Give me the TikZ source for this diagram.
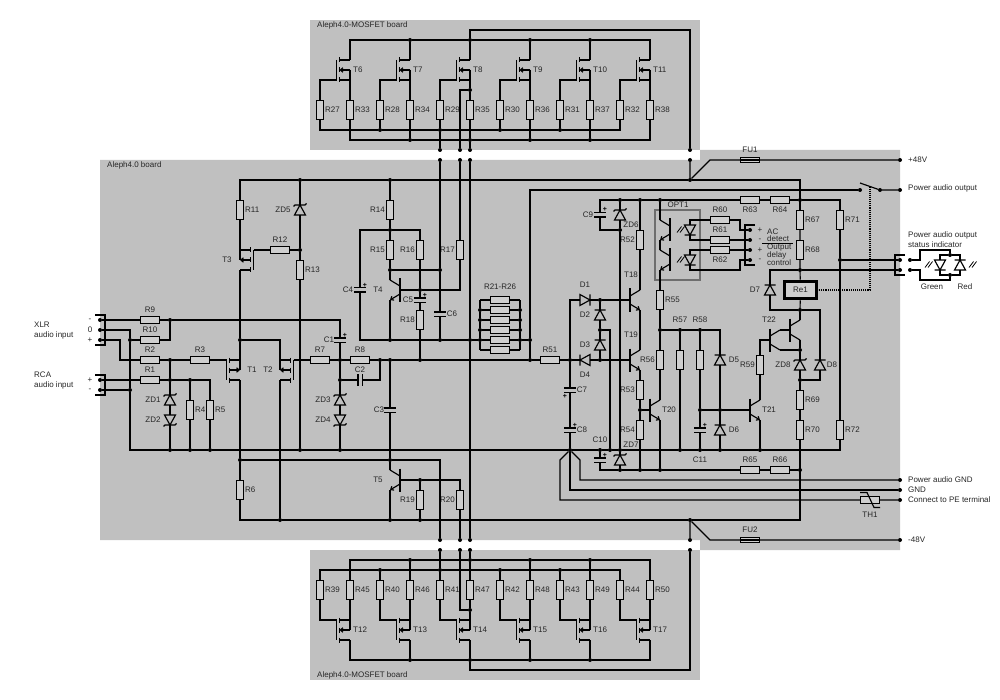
\documentclass[tikz,border=0pt]{standalone}
\usepackage{fontspec}
\setmainfont{Liberation Sans}
\usetikzlibrary{arrows.meta}
\definecolor{board}{HTML}{C0C0C0}
\definecolor{partfill}{HTML}{CFCFCF}
\definecolor{txt}{HTML}{262626}
\definecolor{optbox}{HTML}{6E6E6E}
\tikzset{
  wire/.style={line width=1.15pt,line join=miter},
  part/.style={line width=1.15pt},
  platez/.style={line width=1.4pt},
  lbl/.style={font=\fontsize{8}{9}\selectfont,text=txt,inner sep=0pt},
  plusmark/.style={font=\bfseries\fontsize{7}{8}\selectfont,text=black,inner sep=0pt},
  resh/.style={draw,line width=1.3pt,fill=partfill,inner sep=0pt,minimum width=19pt,minimum height=6.5pt},
  resv/.style={draw,line width=1.3pt,fill=partfill,inner sep=0pt,minimum width=6.5pt,minimum height=19pt},
  dotj/.style={circle,fill=black,inner sep=0pt,minimum size=4pt},
  >={Straight Barb[length=2.6pt,width=4.5pt]},
}
\newcommand{\Junc}[3]{\node[dotj] (#1) at (#2,#3) {};}
\newcommand{\Lbl}[3]{\node[lbl] (lab#1x#2) at (#1,#2) {#3};}
\newcommand{\LblW}[3]{\node[lbl,anchor=west] (labw#1x#2) at (#1,#2) {#3};}
\newcommand{\Plus}[2]{\node[plusmark] (plus#1x#2) at (#1,#2) {+};}
\newcommand{\ResH}[4]{\node[resh] (#1) at (#2,#3) {};\node[lbl] (#1-l) at (#2,{#3-10}) {#4};}
\newcommand{\ResHB}[4]{\node[resh] (#1) at (#2,#3) {};\node[lbl] (#1-l) at (#2,{#3+10}) {#4};}
\newcommand{\ResV}[4]{\node[resv] (#1) at (#2,#3) {};\node[lbl,anchor=west] (#1-l) at ({#2+5},#3) {#4};}
\newcommand{\ResVL}[4]{\node[resv] (#1) at (#2,#3) {};\node[lbl,anchor=east] (#1-l) at ({#2-5},#3) {#4};}
\newcommand{\CapV}[3]{%
  \coordinate (#1-t) at (#2,{#3-2.2});\coordinate (#1-b) at (#2,{#3+2.2});
  \draw[platez] ({#2-6},{#3-2.2}) -- ({#2+6},{#3-2.2}) ({#2-6},{#3+2.2}) -- ({#2+6},{#3+2.2});}
\newcommand{\CapH}[3]{%
  \coordinate (#1-l) at ({#2-2.2},#3);\coordinate (#1-r) at ({#2+2.2},#3);
  \draw[platez] ({#2-2.2},{#3-6}) -- ({#2-2.2},{#3+6}) ({#2+2.2},{#3-6}) -- ({#2+2.2},{#3+6});}
\newcommand{\Dio}[4]{%
  \begin{scope}[shift={(#2,#3)},rotate=#4]
    \draw[part] (-5.5,5) -- (5.5,5) -- (0,-5) -- cycle (-5.5,-5) -- (5.5,-5);
    \coordinate (#1-k) at (0,-5);\coordinate (#1-a) at (0,5);
  \end{scope}}
\newcommand{\Zen}[4]{%
  \begin{scope}[shift={(#2,#3)},rotate=#4]
    \draw[part] (-5.5,5) -- (5.5,5) -- (0,-5) -- cycle (-6.5,-3.5) -- (-5,-5) -- (5,-5) -- (6.5,-6.5);
    \coordinate (#1-k) at (0,-5);\coordinate (#1-a) at (0,5);
  \end{scope}}
\newcommand{\Bjt}[5]{%
  \coordinate (#1-b) at (#2,#3);
  \coordinate (#1-c) at ({#2+#4*10},{#3-10});
  \coordinate (#1-e) at ({#2+#4*10},{#3+10});
  \draw[line width=2.2pt] (#2,{#3-11.5}) -- (#2,{#3+11.5});
  \draw[part] (#2,{#3-4}) -- (#1-c);
  \draw[part,#5] (#2,{#3+4}) -- (#1-e);}
\newcommand{\Mos}[6]{%
  \coordinate (#1-d) at (#2,{#3-10});
  \coordinate (#1-s) at (#2,{#3+10});
  \coordinate (#1-gt) at ({#2+#4*13.5},{#3-10});
  \coordinate (#1-gb) at ({#2+#4*13.5},{#3+10});
  \draw[part] ({#2+#4*10.5},{#3-10}) -- (#2,{#3-10}) ({#2+#4*10.5},{#3+10}) -- (#2,{#3+10});
  \draw[line width=1.5pt] ({#2+#4*10.5},{#3-12.5}) -- ({#2+#4*10.5},{#3-7.5})
     ({#2+#4*10.5},{#3-2.5}) -- ({#2+#4*10.5},{#3+2.5})
     ({#2+#4*10.5},{#3+7.5}) -- ({#2+#4*10.5},{#3+12.5});
  \draw[part] (#1-gt) -- (#1-gb);
  \draw[part] (#2,#3) -- (#2,{#3+#5*10});
  \draw[part,#6] ({#2+#4*10.5},#3) -- (#2,#3);}
\newcommand{\Lite}[2]{%
  \draw[line width=0.8pt] ({#1-3},{#2+3.5}) -- ({#1+1.5},{#2-2.5}) ({#1},{#2+3.5}) -- ({#1+4.5},{#2-2.5});}
\begin{document}
\begin{tikzpicture}[x=1pt,y=-1pt]
\useasboundingbox (0,0) rectangle (1000,700);
% boards
\fill[board] (100,160) -- (700,160) -- (700,150) -- (900,150) -- (900,550) -- (700,550) -- (700,540) -- (100,540) -- cycle;
\fill[board] (310,20) rectangle (700,150);
\fill[board] (310,550) rectangle (700,680);
\LblW{317}{25}{Aleph4.0-MOSFET board}
\LblW{317}{675}{Aleph4.0-MOSFET board}
\LblW{107}{165}{Aleph4.0 board}

% ---------- top MOSFET board ----------
\foreach \tn/\rg/\rs/\xg in {T6/R27/R33/320,T7/R28/R34/380,T8/R29/R35/440,T9/R30/R36/500,T10/R31/R37/560,T11/R32/R38/620}{
  \pgfmathtruncatemacro{\xs}{\xg+30}
  \ResV{\rg}{\xg}{110}{\rg}
  \ResV{\rs}{\xs}{110}{\rs}
  \Mos{\tn}{\xs}{70}{-1}{1}{<-}
  \node[lbl,anchor=west] (\tn-l) at (\xs+3,70) {\tn};
}
\foreach \x in {410,470,530,590}{\Junc{a\x}{\x}{40}\Junc{c\x}{\x}{140}}
\foreach \x in {380,440,500,560}{\Junc{b\x}{\x}{130}}
\Junc{n470}{470}{90}
\foreach \x in {440,460,470,690}{\Junc{p\x}{\x}{150}\Junc{q\x}{\x}{160}\Junc{r\x}{\x}{540}\Junc{s\x}{\x}{550}}
\coordinate (k470t) at (470,30);

% ---------- bottom MOSFET board ----------
\foreach \tn/\rg/\rs/\xg in {T12/R39/R45/320,T13/R40/R46/380,T14/R41/R47/440,T15/R42/R48/500,T16/R43/R49/560,T17/R44/R50/620}{
  \pgfmathtruncatemacro{\xs}{\xg+30}
  \ResV{\rg}{\xg}{590}{\rg}
  \ResV{\rs}{\xs}{590}{\rs}
  \Mos{\tn}{\xs}{630}{-1}{-1}{<-}
  \node[lbl,anchor=west] (\tn-l) at (\xs+3,630) {\tn};
}
\foreach \x in {410,470,530,590}{\Junc{t\x}{\x}{560}\Junc{v\x}{\x}{660}}
\foreach \x in {380,440,500,560}{\Junc{u\x}{\x}{570}}
\Junc{n610}{470}{610}
\coordinate (k470b) at (470,670);

% ---------- input ----------
\foreach \n/\y in {in1/320,in2/330,in3/340,in4/380,in5/390}{\Junc{\n}{100}{\y}}
\draw[wire] (95,315) -- (105,315) -- (105,345) -- (95,345);
\draw[wire] (95,375) -- (105,375) -- (105,395) -- (95,395);
\LblW{34}{325}{XLR}\LblW{34}{335}{audio input}
\LblW{34}{375}{RCA}\LblW{34}{385}{audio input}
\Lbl{90}{320}{-}\Lbl{90}{330}{0}\Lbl{90}{340}{+}\Lbl{90}{380}{+}\Lbl{90}{390}{-}
\ResH{R9}{150}{320}{R9}
\ResH{R10}{150}{340}{R10}
\ResH{R2}{150}{360}{R2}
\ResH{R1}{150}{380}{R1}
\ResH{R3}{200}{360}{R3}
\ResV{R4}{190}{410}{R4}
\ResV{R5}{210}{410}{R5}
\Zen{ZD1}{170}{400}{0}\Lbl{153}{400}{ZD1}
\Zen{ZD2}{170}{420}{180}\Lbl{153}{420}{ZD2}
\Junc{j170a}{170}{320}\Junc{j170b}{170}{360}\Junc{j170c}{170}{380}\Junc{j190c}{190}{380}
\Junc{j130b}{130}{340}\Junc{j130c}{130}{390}
\coordinate (k120a) at (120,340);

% ---------- ground row y=450 ----------
\foreach \x in {170,190,210,300,340,570,600,610,620,680,700,720,760}{\Junc{g\x}{\x}{450}}

% ---------- differential stage ----------
\Mos{T1}{240}{370}{-1}{-1}{->}\Lbl{252}{370}{T1}
\Mos{T2}{280}{370}{1}{-1}{->}\Lbl{268}{370}{T2}
\Mos{T3}{240}{260}{1}{-1}{->}\Lbl{227}{260}{T3}
\ResV{R11}{240}{210}{R11}
\ResH{R12}{280}{250}{R12}
\ResV{R13}{300}{270}{R13}
\Zen{ZD5}{300}{210}{0}\Lbl{283}{210}{ZD5}
\ResV{R6}{240}{490}{R6}
\ResH{R7}{320}{360}{R7}
\ResH{R8}{360}{360}{R8}
\CapV{C1}{340}{340}\Lbl{329}{340}{C1}\Plus{345}{335}
\CapH{C2}{360}{380}\Lbl{360}{370}{C2}
\CapV{C3}{390}{410}\Lbl{379}{410}{C3}
\Zen{ZD3}{340}{400}{0}\Lbl{323}{400}{ZD3}
\Zen{ZD4}{340}{420}{180}\Lbl{323}{420}{ZD4}
\Junc{d300a}{300}{180}\Junc{d390a}{390}{180}\Junc{d690a}{690}{180}\Junc{d300b}{300}{250}
\Junc{j240a}{240}{340}\Junc{j240b}{240}{460}\Junc{j280c}{280}{520}
\Junc{d340}{340}{360}\Junc{d380}{380}{360}\Junc{d390}{390}{360}\Junc{d420}{420}{360}
\Junc{d530b}{530}{360}\Junc{d570b}{570}{360}\Junc{d600b}{600}{360}
\Junc{d340b}{340}{380}\Junc{d390b}{390}{460}\Junc{d390c}{390}{520}
\Junc{d420b}{420}{480}\Junc{d420c}{420}{520}\Junc{d690b}{690}{520}

% ---------- T4 / T5 ----------
\ResVL{R14}{390}{210}{R14}
\ResVL{R15}{390}{250}{R15}
\ResVL{R16}{420}{250}{R16}
\ResVL{R17}{460}{250}{R17}
\ResVL{R18}{420}{320}{R18}
\ResVL{R19}{420}{500}{R19}
\ResVL{R20}{460}{500}{R20}
\Bjt{T4}{400}{290}{-1}{->}\Lbl{378}{290}{T4}
\Bjt{T5}{400}{480}{-1}{->}\Lbl{378}{480}{T5}
\CapV{C4}{360}{290}\Lbl{348}{290}{C4}\Plus{365}{285}
\CapV{C5}{420}{300}\Lbl{408}{300}{C5}\Plus{425}{295}
\CapV{C6}{440}{314}\Lbl{452}{314}{C6}
\Junc{d390m}{390}{230}\Junc{d390n}{390}{270}\Junc{d440a}{440}{270}\Junc{d420a}{420}{290}
\Junc{d390e}{390}{340}\Junc{d440b}{440}{340}\Junc{d470}{470}{340}\Junc{d530a}{530}{340}

% ---------- R21-R26 ----------
\Lbl{500}{287}{R21-R26}
\foreach \n/\y in {R21/300,R22/310,R23/320,R24/330,R25/340,R26/350}{\node[resh] (\n) at (500,\y) {};}
\coordinate (lR21) at (480,300);\coordinate (rR21) at (520,300);
\coordinate (lR26) at (480,350);\coordinate (rR26) at (520,350);
\foreach \n/\y in {R22/310,R23/320,R24/330,R25/340}{\Junc{l\n}{480}{\y}\Junc{r\n}{520}{\y}}

% ---------- driver / protection ----------
\ResH{R51}{550}{360}{R51}
\Dio{D1}{585}{300}{-90}\Lbl{585}{285}{D1}
\Dio{D2}{600}{315}{0}\Lbl{585}{315}{D2}
\Dio{D3}{600}{345}{0}\Lbl{585}{345}{D3}
\Dio{D4}{585}{360}{90}\Lbl{585}{375}{D4}
\Junc{d600a}{600}{300}\Junc{d600m}{600}{330}
\CapV{C7}{570}{390}\Lbl{582}{390}{C7}\Plus{565}{396}
\CapV{C8}{570}{430}\Lbl{582}{430}{C8}\Plus{575}{425}
\CapV{C9}{600}{215}\Lbl{588}{215}{C9}\Plus{605}{209}
\CapV{C10}{600}{460}\Lbl{600}{440}{C10}\Plus{605}{455}
\CapV{C11}{700}{430}\Lbl{700}{460}{C11}\Plus{705}{425}
\Zen{ZD6}{620}{215}{0}\Lbl{631}{225}{ZD6}
\Zen{ZD7}{620}{460}{0}\Lbl{631}{445}{ZD7}
\ResVL{R52}{640}{240}{R52}
\ResVL{R53}{640}{390}{R53}
\ResVL{R54}{640}{430}{R54}
\ResV{R55}{660}{300}{R55}
\ResVL{R56}{660}{360}{R56}
\Bjt{T18}{630}{300}{1}{->}\Lbl{631}{275}{T18}
\Bjt{T19}{630}{360}{1}{->}\Lbl{631}{335}{T19}
\Bjt{T20}{650}{410}{1}{->}\Lbl{669}{410}{T20}
\Bjt{T21}{750}{410}{1}{->}\Lbl{769}{410}{T21}
\Bjt{T22a}{770}{340}{1}{}\Lbl{769}{320}{T22}
\Bjt{T22b}{790}{330}{1}{}
\node[resv] (R57) at (680,360) {};\Lbl{680}{320}{R57}
\node[resv] (R58) at (700,360) {};\Lbl{700}{320}{R58}
\ResVL{R59}{760}{365}{R59}
\Dio{D5}{720}{360}{0}\Lbl{734}{360}{D5}
\Dio{D6}{720}{430}{0}\Lbl{734}{430}{D6}
\Dio{D7}{770}{290}{0}\Lbl{755}{290}{D7}
\Zen{ZD8}{800}{365}{0}\Lbl{783}{365}{ZD8}
\Dio{D8}{820}{365}{0}\Lbl{832}{365}{D8}
\ResHB{R63}{750}{200}{R63}
\ResHB{R64}{780}{200}{R64}
\ResH{R65}{750}{470}{R65}
\ResH{R66}{780}{470}{R66}
\ResV{R67}{800}{220}{R67}
\ResV{R68}{800}{250}{R68}
\ResV{R69}{800}{400}{R69}
\ResV{R70}{800}{430}{R70}
\ResV{R71}{840}{220}{R71}
\ResV{R72}{840}{430}{R72}
\node[draw,line width=3.2pt,fill=partfill,inner sep=0pt,minimum width=32pt,minimum height=17.5pt,lbl] (Re1) at (800.5,290) {Re1};
\foreach \n/\x/\y in {d620a/620/200,d640a/640/200,d660a/660/200,d800/800/200,d620b/620/230,d620c/620/470,d640b/640/410,d640c/640/470,d660b/660/330,d660c/660/470,d680/680/330,d700/700/330,d700b/700/410,d720a/720/410,d800r/800/270,d800c/800/310,d800b/800/350,d800d/800/380,d800e/800/470,d840/840/260,d860/860/190,d880/880/190}{\Junc{\n}{\x}{\y}}

% ---------- OPT1 ----------
\draw[optbox,line width=1.1pt] (655,210) rectangle (700,280);
\Lbl{678}{205}{OPT1}
\Bjt{OT1}{670}{230}{-1}{->}
\Bjt{OT2}{670}{260}{-1}{->}
\Dio{OL1}{690}{230}{180}
\Dio{OL2}{690}{260}{180}
\Lite{680}{229}\Lite{680}{259}
\ResH{R60}{720}{220}{R60}
\ResH{R61}{720}{240}{R61}
\ResHB{R62}{720}{250}{R62}
\foreach \n/\y in {o1/230,o2/240,o3/250,o4/260}{\Junc{\n}{750}{\y}}
\coordinate (k740a) at (740,220);\coordinate (k740b) at (740,270);
\draw[wire] (755,225) -- (745,225) -- (745,265) -- (755,265);
\Lbl{760}{230}{+}\Lbl{760}{240}{-}\Lbl{760}{250}{+}\Lbl{760}{260}{-}
\LblW{767}{232}{AC}\LblW{767}{239}{detect}\LblW{767}{247.5}{Output}\LblW{767}{255}{delay}\LblW{767}{262.5}{control}
\draw[line width=0.9pt] (762,243) -- (793,243);

% ---------- outputs ----------
\foreach \n/\y in {o160/160,o190/190,o480/480,o490/490,o500/500,o540/540}{\Junc{\n}{900}{\y}}
\LblW{908}{160}{+48V}
\LblW{908}{188.5}{Power audio output}
\LblW{908}{235}{Power audio output}
\LblW{908}{245}{status indicator}
\LblW{908}{480}{Power audio GND}
\LblW{908}{490}{GND}
\LblW{908}{500}{Connect to PE terminal}
\LblW{908}{540}{-48V}
\node[draw,line width=1.3pt,fill=partfill,inner sep=0pt,minimum width=19pt,minimum height=5.5pt] (FU1) at (750,160) {};
\Lbl{750}{150}{FU1}
\node[draw,line width=1.3pt,fill=partfill,inner sep=0pt,minimum width=19pt,minimum height=5.5pt] (FU2) at (750,540) {};
\Lbl{750}{530}{FU2}
\node[resh] (TH1) at (870,500) {};
\Lbl{870}{515}{TH1}
\draw[part] (860,492.5) -- (867,492.5) -- (874,507.5) -- (880,507.5);
\coordinate (k710a) at (710,160);\coordinate (k710b) at (710,540);
\coordinate (k560a) at (560,460);\coordinate (k580a) at (580,460);
\coordinate (swt) at (860,183);\coordinate (swm) at (870,186.5);

% ---------- status LEDs ----------
\Junc{o260}{900}{260}\Junc{o270}{900}{270}\Junc{p260}{910}{260}\Junc{p270}{910}{270}
\draw[wire] (905,255) -- (895,255) -- (895,275) -- (905,275);
\Dio{GL}{940}{265}{180}\Lbl{932}{287}{Green}
\Dio{RL}{960}{265}{0}\Lbl{965}{287}{Red}
\Lite{928}{264}\Lite{972}{264}
\Junc{d950a}{950}{255}\Junc{d950b}{950}{275}
\coordinate (k920a) at (920,260);\coordinate (k950a) at (950,250);
\coordinate (k920b) at (920,270);\coordinate (k950b) at (950,280);

% ========== wires ==========
\begin{scope}[wire]
% top board
\draw (T6-d) |- (a410) -- (a470) -- (a530) -- (a590) -| (T11-d);
\draw (T7-d) -- (a410) (T8-d) -- (a470) (T9-d) -- (a530) (T10-d) -- (a590);
\draw (a470) -- (k470t) -| (p690);
\foreach \rg/\tn in {R27/T6,R28/T7,R29/T8,R30/T9,R31/T10,R32/T11}{\draw (\rg) |- (\tn-gb);}
\foreach \rs/\tn in {R33/T6,R34/T7,R36/T9,R37/T10,R38/T11}{\draw (\rs) -- (\tn-s);}
\draw (T8-s) -- (n470) -- (R35);
\draw (n470) -| (p460);
\draw (R27) |- (b380) -- (b440) -- (b500) -- (b560) -| (R32);
\draw (R33) |- (c410) -- (c470) -- (c530) -- (c590) -| (R38);
\draw (R28) -- (b380) (R29) -- (b440) (R30) -- (b500) (R31) -- (b560);
\draw (R34) -- (c410) (R35) -- (c470) (R36) -- (c530) (R37) -- (c590);
\draw (b440) -- (p440) (c470) -- (p470);
% bottom board
\draw (R45) |- (t410) -- (t470) -- (t530) -- (t590) -| (R50);
\draw (R39) |- (u380) -- (u440) -- (u500) -- (u560) -| (R44);
\draw (R46) -- (t410) (R47) -- (t470) (R48) -- (t530) (R49) -- (t590);
\draw (R40) -- (u380) (R41) -- (u440) (R42) -- (u500) (R43) -- (u560);
\draw (s440) -- (u440) (s470) -- (t470);
\draw (s460) |- (n610);
\draw (R47) -- (n610) -- (T14-d);
\foreach \rg/\tn in {R39/T12,R40/T13,R41/T14,R42/T15,R43/T16,R44/T17}{\draw (\rg) |- (\tn-gt);}
\foreach \rs/\tn in {R45/T12,R46/T13,R48/T15,R49/T16,R50/T17}{\draw (\rs) -- (\tn-d);}
\draw (T12-s) |- (v410) -- (v470) -- (v530) -- (v590) -| (T17-s);
\draw (T13-s) -- (v410) (T14-s) -- (v470) (T15-s) -- (v530) (T16-s) -- (v590);
\draw (s690) |- (k470b) -- (v470);
% input
\draw (in1) -- (R9) -- (j170a) -| (C1-t);
\draw (in2) -| (j130b) -- (R10) -| (j170a);
\draw (in3) -- (k120a) |- (R2) -- (j170b) -- (R3) -- (T1-gt);
\draw (in4) -- (R1) -- (j170c) -- (j190c) -| (R5);
\draw (in5) -- (j130c);
\draw (j130b) -- (j130c) |- (g170);
\draw (j170b) -- (j170c) -- (ZD1-k) (ZD1-a) -- (ZD2-a) (ZD2-k) -- (g170);
\draw (j190c) -- (R4) -- (g190) (R5) -- (g210);
% y=450
\draw (g170) -- (g190) -- (g210) -- (g300) -- (g340) -- (g570) -- (g600) -- (g610) -- (g620) -- (g680) -- (g700) -- (g720) -- (g760) -| (R72);
% power rail
\draw (R11) |- (d300a) -- (d390a) -- (d690a) -| (R67);
\draw (q690) -- (d690a) -- (k710a) -- (FU1) -- (o160);
\draw (FU1.west) -- (FU1.east);
\draw (R11) -- (T3-d) (T3-s) -- (j240a) -- (T1-d);
\draw (j240a) -| (T2-d);
\draw (T1-s) -- (j240b) -- (R6) |- (j280c) -- (d390c) -- (d420c) -- (d690b) -| (R70);
\draw (T2-s) -- (j280c);
\draw (T2-gt) -- (R7) -- (d340) -- (R8) -- (d380) -- (d390) -- (d420) -- (d530b) -- (R51) -- (d570b) -- (D4-k);
\draw (D4-a) -- (d600b) -- (T19-b);
\draw (C1-b) -- (d340) -- (d340b) -- (ZD3-k) (ZD3-a) -- (ZD4-a) (ZD4-k) -- (g340);
\draw (d340b) -- (C2-l) (C2-r) -| (d380);
\draw (d390) -- (C3-t) (C3-b) -- (d390b) -- (T5-c) (T5-e) -- (d390c);
\draw (j240b) -- (d390b) -| (r440);
\draw (T5-b) -- (d420b) -| (R20) -- (r460);
\draw (d420b) -- (R19) -- (d420c);
\draw (d690b) -- (r690) (d690b) -- (k710b) -- (FU2) -- (o540);
\draw (FU2.west) -- (FU2.east);
% ZD5 branch
\draw (d300a) -- (ZD5-k) (ZD5-a) -- (d300b) -- (R13) -- (g300);
\draw (d300b) -- (R12) -- (T3-gt);
% T4
\draw (d390a) -- (R14) -- (d390m) -- (R15) -- (d390n) -- (T4-c);
\draw (C4-t) |- (d390m) -| (R16);
\draw (R16) -- (d420a) -- (C5-t) (C5-b) -- (R18) -- (d420);
\draw (d390n) -- (d440a);
\draw (q440) -- (d440a) -- (C6-t) (C6-b) -- (d440b);
\draw (q460) -- (R17) |- (d420a) -- (T4-b);
\draw (q470) -- (d470) -- (r470);
\draw (T4-e) -- (d390e);
\draw (C4-b) |- (d390e) -- (d440b) -- (d470) -- (lR25);
\draw (rR25) -- (d530a) -- (d530b);
\draw (d530a) |- (d860);
% R21-R26
\draw (lR21) -- (lR22) -- (lR23) -- (lR24) -- (lR25) -- (lR26);
\draw (rR21) -- (rR22) -- (rR23) -- (rR24) -- (rR25) -- (rR26);
\draw (lR21) -- (R21) -- (rR21) (lR22) -- (R22) -- (rR22) (lR23) -- (R23) -- (rR23);
\draw (lR24) -- (R24) -- (rR24) (lR25) -- (R25) -- (rR25) (lR26) -- (R26) -- (rR26);
% switch and relay
\draw (swt) -- (d880) -- (o190);
\draw[line width=1.1pt,dash pattern=on 1.1pt off 1pt] (swm) |- (Re1);
% driver
\draw (D1-a) -| (d570b);
\draw (D1-k) -- (d600a) -- (T18-b);
\draw (d600a) -- (D2-k) (D2-a) -- (d600m) -- (D3-k) (D3-a) -- (d600b);
\draw (d600m) -| (g610);
\draw (d570b) -- (C7-t) (C7-b) -- (C8-t) (C8-b) -- (g570);
\draw (C9-t) |- (d620a) -- (d640a) -- (d660a) -- (R63) -- (R64) -- (d800) -| (R71);
\draw (C9-b) |- (d620b);
\draw (d620a) -- (ZD6-k) (ZD6-a) -- (d620b) -- (g620) -- (ZD7-k) (ZD7-a) -- (d620c);
\draw (d640a) -- (R52) -- (T18-c) (T18-e) -- (T19-c) (T19-e) -- (R53) -- (d640b) -- (R54) -- (d640c);
\draw (d640b) -- (T20-b);
\draw (d660a) -- (OT1-c) (OT1-e) -- (OT2-c) (OT2-e) -- (R55) -- (d660b) -- (R56) -- (T20-c) (T20-e) -- (d660c);
\draw (d660b) -- (d680) -- (d700) -| (D5-k);
\draw (d680) -- (R57) -- (g680);
\draw (d700) -- (R58) -- (d700b) -- (C11-t) (C11-b) -- (g700);
\draw (D5-a) -- (d720a) -- (D6-k) (D6-a) -- (g720);
\draw (d700b) -- (d720a) -- (T21-b);
\draw (T21-c) -- (R59) |- (T22a-b);
\draw (T21-e) -- (g760);
\draw (T22a-c) -- (T22b-b);
\draw (T22a-e) -- (d800b) (T22b-e) -- (d800b);
\draw (T22b-c) -- (d800c);
\draw (R67) -- (R68) -- (d800r) -- (Re1) -- (d800c);
\draw (d800c) -| (D8-k) (D8-a) |- (d800d);
\draw (d800b) -- (ZD8-k) (ZD8-a) -- (d800d) -- (R69) -- (R70);
\draw (d800r) -| (D7-k) (D7-a) |- (d800c);
\draw (d800r) -- (o270);
\draw (R71) -- (d840) -- (R72);
\draw (d840) -- (o260);
% lower rails
\draw (g600) -- (C10-t) (C10-b) |- (d620c) -- (d640c) -- (d660c) -- (R65) -- (R66) -- (d800e);
\draw (g570) -- (k560a) |- (TH1) -- (o500);
\draw (g570) -- (k580a) |- (o480);
\draw (g570) |- (o490);
% OPT1
\draw (OL1-a) |- (R60) -- (k740a) |- (o1);
\draw (OL1-k) |- (R61) -- (o2);
\draw (OL2-a) |- (R62) -- (o3);
\draw (OL2-k) |- (k740b) |- (o4);
% status LEDs
\draw (p260) -- (k920a) |- (k950a) -- (d950a);
\draw (d950a) -| (GL-a) (d950a) -| (RL-k);
\draw (GL-k) |- (d950b) (RL-a) |- (d950b);
\draw (d950b) -- (k950b) -| (k920b) -- (p270);
\end{scope}
\end{tikzpicture}
\end{document}
